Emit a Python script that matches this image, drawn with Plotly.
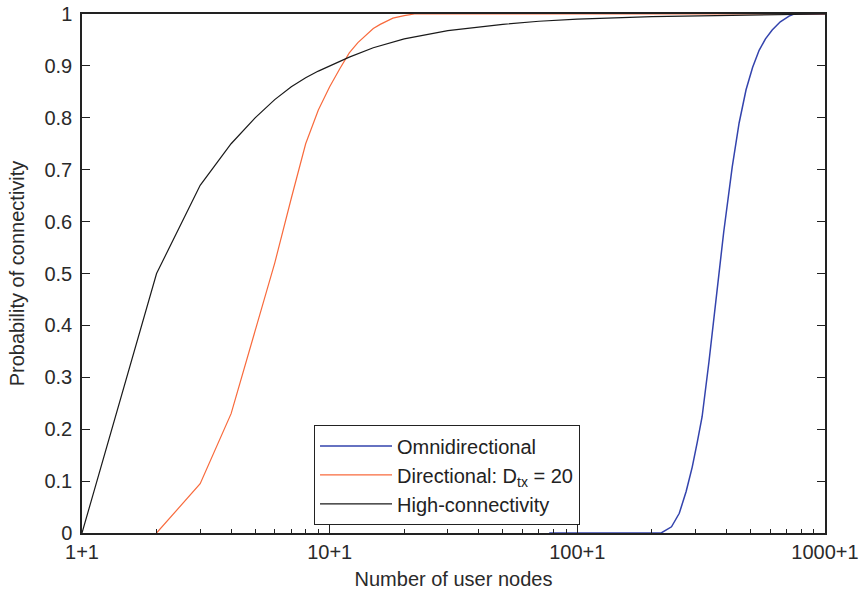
import plotly.graph_objects as go

# Number of user nodes (x) and probability of connectivity (y)
omni_n = [77, 150, 218, 240, 258, 275, 291, 305, 319, 340, 363, 390, 422, 450, 480, 510, 542, 575, 612, 660, 716, 750, 850, 1000]
omni_p = [0.0, 0.0, 0.0, 0.012, 0.038, 0.08, 0.127, 0.175, 0.224, 0.33, 0.449, 0.58, 0.705, 0.79, 0.854, 0.897, 0.93, 0.952, 0.969, 0.985, 0.996, 1.0, 1.0, 1.0]

dir_n = [2, 3, 4, 5, 6, 7, 8, 9, 10, 11, 12, 13, 14, 15, 16, 18, 20, 22, 50, 100, 1000]
dir_p = [0.0, 0.095, 0.23, 0.39, 0.52, 0.645, 0.75, 0.815, 0.86, 0.895, 0.925, 0.945, 0.96, 0.972, 0.98, 0.992, 0.997, 1.0, 1.0, 1.0, 1.0]

hc_n = [1, 2, 3, 4, 5, 6, 7, 8, 9, 10, 12, 15, 20, 30, 50, 70, 100, 200, 500, 1000]
hc_p = [0.0, 0.5, 0.67, 0.75, 0.80, 0.835, 0.86, 0.877, 0.89, 0.90, 0.917, 0.935, 0.952, 0.968, 0.98, 0.986, 0.99, 0.995, 0.998, 1.0]

x_tickvals = [1, 10, 100, 1000]
x_ticktext = ["1+1", "10+1", "100+1", "1000+1"]
x_minor = [2, 3, 4, 5, 6, 7, 8, 9, 20, 30, 40, 50, 60, 70, 80, 90, 200, 300, 400, 500, 600, 700, 800, 900]
y_tickvals = [0, 0.1, 0.2, 0.3, 0.4, 0.5, 0.6, 0.7, 0.8, 0.9, 1]
y_ticktext = ["0", "0.1", "0.2", "0.3", "0.4", "0.5", "0.6", "0.7", "0.8", "0.9", "1"]

fig = go.Figure()
fig.add_trace(go.Scatter(x=omni_n, y=omni_p, mode="lines", name="Omnidirectional",
                         line=dict(color="#3343ad", width=1.5)))
fig.add_trace(go.Scatter(x=dir_n, y=dir_p, mode="lines", name="Directional: D<sub>tx</sub> = 20",
                         line=dict(color="#f86a3c", width=1.2)))
fig.add_trace(go.Scatter(x=hc_n, y=hc_p, mode="lines", name="High-connectivity",
                         line=dict(color="#1a1a1a", width=1.2)))

axis_font = dict(family="Liberation Sans, Arial, sans-serif", size=20, color="#2a2a2a")
tick_common = dict(ticks="inside", ticklen=8, tickcolor="#222", tickwidth=1.2)

fig.update_layout(
    width=862, height=592,
    margin=dict(l=82, r=37, t=14, b=59),
    paper_bgcolor="white", plot_bgcolor="white",
    font=axis_font,
    showlegend=True,
    legend=dict(x=0.312, y=0.015, xanchor="left", yanchor="bottom",
                bgcolor="white", bordercolor="#222", borderwidth=1.2,
                font=dict(family="Liberation Sans, Arial, sans-serif", size=20, color="#222"),
                itemwidth=72, tracegroupgap=0),
    xaxis=dict(type="log", range=[0, 3], tickvals=x_tickvals, ticktext=x_ticktext,
               showline=True, linecolor="#222", linewidth=1.5, mirror=True,
               showgrid=False, zeroline=False, automargin=False,
               minor=dict(tickvals=x_minor, ticks="inside", ticklen=4, tickcolor="#222", tickwidth=1.2, showgrid=False),
               title=dict(text="Number of user nodes", standoff=10, font=axis_font),
               tickfont=axis_font, **tick_common),
    xaxis2=dict(type="log", range=[0, 3], tickvals=x_tickvals, overlaying="x", side="top", anchor="y",
                showticklabels=False, showgrid=False, zeroline=False, showline=False,
                minor=dict(tickvals=x_minor, ticks="inside", ticklen=4, tickcolor="#222", tickwidth=1.2, showgrid=False),
                **tick_common),
    yaxis=dict(range=[0, 1], tickvals=y_tickvals, ticktext=y_ticktext,
               showline=True, linecolor="#222", linewidth=1.5, mirror="ticks",
               showgrid=False, zeroline=False, automargin=False,
               title=dict(text="Probability of connectivity", standoff=14, font=axis_font),
               tickfont=axis_font, ticklabelstandoff=4, **tick_common),
)

fig.write_html("out.html")
